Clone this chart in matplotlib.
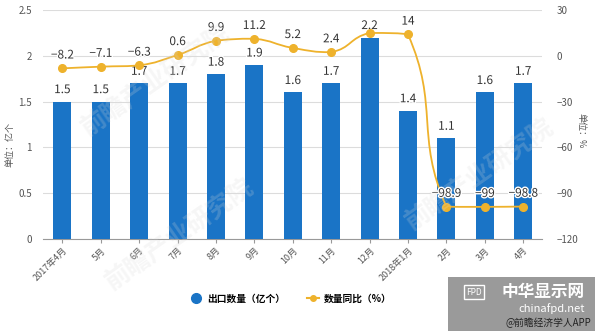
import matplotlib
matplotlib.use('Agg')
import matplotlib.pyplot as plt
import matplotlib.patheffects as pe
from matplotlib.path import Path
from matplotlib.patches import PathPatch, Rectangle
from matplotlib.lines import Line2D
import numpy as np

plt.rcParams['font.family'] = ['Noto Sans CJK SC', 'DejaVu Sans']

months = ['2017年4月', '5月', '6月', '7月', '8月', '9月', '10月', '11月', '12月',
          '2018年1月', '2月', '3月', '4月']
export_qty = [1.5, 1.5, 1.7, 1.7, 1.8, 1.9, 1.6, 1.7, 2.2, 1.4, 1.1, 1.6, 1.7]
yoy_pct = [-8.2, -7.1, -6.3, 0.6, 9.9, 11.2, 5.2, 2.4, 15.0, 14, -98.9, -99, -98.8]
yoy_labels = ['-8.2', '-7.1', '-6.3', '0.6', '9.9', '11.2', '5.2', '2.4', '', '14',
              '-98.9', '-99', '-98.8']

BAR = '#1a74c6'
LINE = '#eeb22c'
GRID = '#dcdcdc'
TXT = '#555555'


def smooth_path(xs, ys, k=0.5, sx=1.0, sy=1.0):
    # bezier control points in a roughly pixel-shaped space,
    # clamped so a segment never leaves the range of its two ends
    p = np.column_stack([np.asarray(xs, float) * sx, np.asarray(ys, float) * sy])
    n = len(p)
    cin, cout = p.copy(), p.copy()
    for i in range(n):
        prv = p[i - 1] if i > 0 else p[i]
        nxt = p[i + 1] if i < n - 1 else p[i]
        v = nxt - prv
        d0 = np.hypot(*(p[i] - prv))
        d1 = np.hypot(*(nxt - p[i]))
        if d0 + d1 == 0:
            continue
        cin[i] = p[i] - v * k * d0 / (d0 + d1)
        cout[i] = p[i] + v * k * d1 / (d0 + d1)
        lo, hi = sorted([prv[1], p[i][1]])
        cin[i][1] = min(max(cin[i][1], lo), hi)
        lo, hi = sorted([nxt[1], p[i][1]])
        cout[i][1] = min(max(cout[i][1], lo), hi)
    verts = [p[0]]
    codes = [Path.MOVETO]
    for i in range(n - 1):
        verts += [cout[i], cin[i + 1], p[i + 1]]
        codes += [Path.CURVE4] * 3
    verts = np.array(verts) / [sx, sy]
    return Path(verts, codes)


fig = plt.figure(figsize=(6, 3.36), dpi=100)
ax = fig.add_axes([0.072, 0.289, 0.832, 0.681])
ax2 = ax.twinx()

x = np.arange(len(months))
ax.bar(x, export_qty, width=0.47, color=BAR, zorder=3)
for xi, v in zip(x, export_qty):
    ax.text(xi, v + 0.06, f'{v:g}', ha='center', va='bottom', fontsize=8.5,
            color='#333333', zorder=5,
            path_effects=[pe.withStroke(linewidth=2, foreground='white')])

ax.set_xlim(-0.5, len(months) - 0.5)
ax.set_ylim(0, 2.5)
ax.set_yticks([0, 0.5, 1, 1.5, 2, 2.5])
ax.set_yticklabels(['0', '0.5', '1', '1.5', '2', '2.5'])
ax.grid(axis='y', color=GRID, linewidth=0.8, zorder=0)
ax.set_axisbelow(True)
ax.set_xticks(x)
ax.set_xticklabels(months, rotation=45, ha='right', rotation_mode='anchor', fontsize=6.5, color=TXT)
ax.tick_params(axis='y', length=0, labelsize=7, colors=TXT, pad=8)
ax.tick_params(axis='x', length=3, color='#999999', pad=2)
for s in ['top', 'right', 'left']:
    ax.spines[s].set_visible(False)
ax.spines['bottom'].set_color('#999999')

ax2.set_ylim(-120, 30)
ax2.set_yticks([-120, -90, -60, -30, 0, 30])
ax2.tick_params(axis='y', length=0, labelsize=7, colors=TXT, pad=10)
for s in ax2.spines.values():
    s.set_visible(False)

curve = smooth_path(x, yoy_pct, k=0.5, sx=38.5, sy=229 / 150)
ax2.add_patch(PathPatch(curve, facecolor='none', edgecolor=LINE, linewidth=1.3, zorder=4))
ax2.plot(x, yoy_pct, linestyle='none', marker='o', markersize=5.5, color=LINE, zorder=5)
for xi, v, lab in zip(x, yoy_pct, yoy_labels):
    if lab:
        ax2.text(xi, v + 4.5, lab.replace('-', '\u2212'), ha='center', va='bottom',
                 fontsize=8.5, color='#333333', zorder=6,
                 path_effects=[pe.withStroke(linewidth=2, foreground='white')])

fig.text(0.016, 0.57, '单位：亿个', rotation=90, ha='center', va='center', fontsize=6.5, color=TXT)
fig.text(0.968, 0.61, '单位：%', rotation=-90, ha='center', va='center', fontsize=6.5, color=TXT)

# light diagonal watermarks
for wx, wy, ang in [(0.26, 0.76, 35), (0.30, 0.30, 35), (0.80, 0.48, 35)]:
    fig.text(wx, wy, '前瞻产业研究院', rotation=ang, ha='center', va='center',
             fontsize=18, fontweight='bold', color='#d8d8d8', alpha=0.22, zorder=10)

handles = [Line2D([], [], linestyle='none', marker='o', markersize=7, color=BAR),
           Line2D([], [], color=LINE, linewidth=1.5, marker='o', markersize=4)]
fig.legend(handles, ['出口数量（亿个）', '数量同比（%）'], loc='center',
           bbox_to_anchor=(0.485, 0.112), ncol=2, frameon=False,
           handlelength=1.3, handletextpad=0.5, columnspacing=2.2,
           prop={'weight': 'bold', 'size': 7})

# site badge in the lower right corner
fig.patches.append(Rectangle((0.747, 0.015), 0.245, 0.16, transform=fig.transFigure,
                             facecolor='#9a9a9a', edgecolor='none', zorder=20))
fig.text(0.79, 0.13, 'FPD', fontsize=6, color='white', ha='center', va='center', zorder=21,
         bbox=dict(boxstyle='square,pad=0.3', fc='none', ec='white', lw=1))
fig.text(0.905, 0.13, '中华显示网', fontsize=12, fontweight='bold', color='white',
         ha='center', va='center', zorder=21)
fig.text(0.92, 0.083, 'chinafpd.net', fontsize=8, color='white', ha='center', va='center', zorder=21)
fig.text(0.985, 0.038, '@前瞻经济学人APP', fontsize=7, color='#222222', ha='right', va='center', zorder=21)

fig.savefig('out.png', dpi=100)
